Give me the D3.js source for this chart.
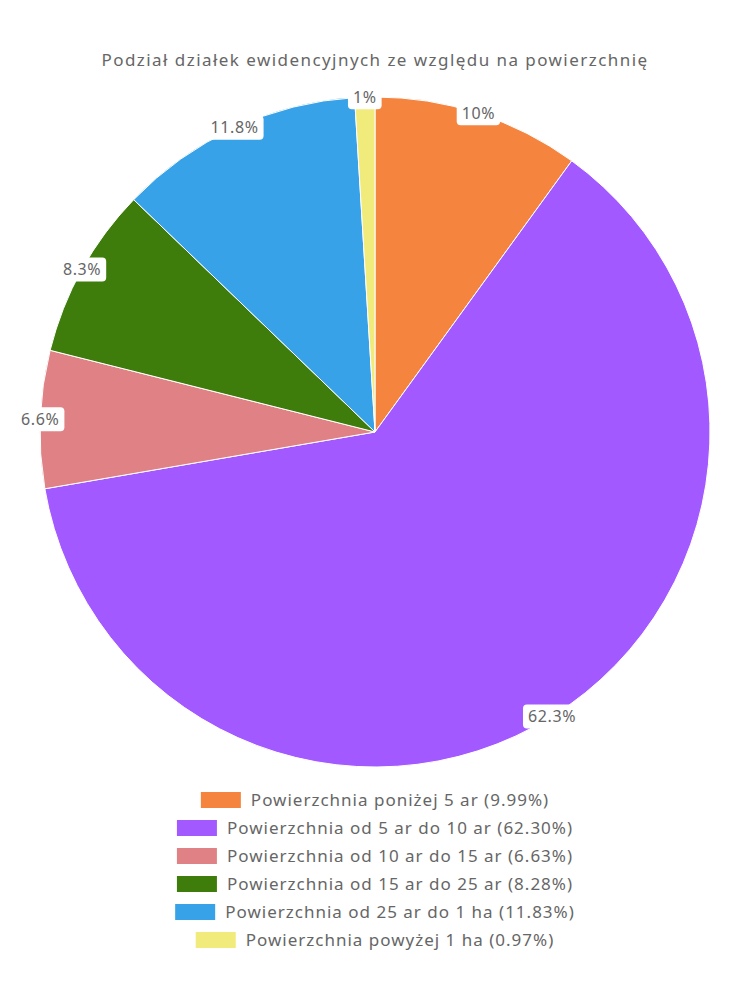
<!DOCTYPE html>
<html><head><meta charset="utf-8">
<script src="https://cdn.jsdelivr.net/npm/d3@7"></script>
<style>body{margin:0;background:#fff;} svg{display:block;}</style>
</head><body>
<svg id="chart" width="750" height="1000"></svg>
<script>
const title = "Podział działek ewidencyjnych ze względu na powierzchnię";
const categories = ["Powierzchnia poniżej 5 ar","Powierzchnia od 5 ar do 10 ar","Powierzchnia od 10 ar do 15 ar","Powierzchnia od 15 ar do 25 ar","Powierzchnia od 25 ar do 1 ha","Powierzchnia powyżej 1 ha"];
const values = [9.99, 62.30, 6.63, 8.28, 11.83, 0.97];
const sliceLabels = ["10%","62.3%","6.6%","8.3%","11.8%","1%"];
const colors = ["#f5843f","#a259ff","#e08285","#3e7c0b","#38a2e9","#f0eb7b"];

const FONT = "'Noto Sans', sans-serif";
const svg = d3.select("#chart");
const cx = 375, cy = 432, R = 335;

const tt = svg.append("text").attr("x", cx).attr("y", 66).attr("text-anchor","middle")
  .attr("font-family", FONT).attr("font-size", 17).attr("fill","#666").text(title);
// stretch to reference width
{
  const w = tt.node().getComputedTextLength();
  const ls = (547 - w) / title.length;
  tt.attr("letter-spacing", ls);
}

const pie = d3.pie().sort(null).value(d=>d)(values);
const arc = d3.arc().innerRadius(0).outerRadius(R);
const g = svg.append("g").attr("transform",`translate(${cx},${cy})`);
g.selectAll("path").data(pie).join("path")
  .attr("d", arc).attr("fill",(d,i)=>colors[i]).attr("stroke","#fff").attr("stroke-width",1);

const labelArc = d3.arc().innerRadius(R).outerRadius(R);
const lg = g.selectAll("g.lab").data(pie).join("g").attr("class","lab")
  .attr("transform", d=>{const c = labelArc.centroid(d); return `translate(${c[0]},${c[1]})`;});
lg.each(function(d,i){
  const s = d3.select(this);
  const t = s.append("text").attr("text-anchor","middle").attr("dy","0.35em")
    .attr("font-family", FONT).attr("font-size", 16).attr("letter-spacing", 0.6)
    .attr("fill","#666").text(sliceLabels[i]);
  const bb = t.node().getBBox();
  s.insert("rect","text").attr("x", bb.x-5).attr("y", -12).attr("width", bb.width+10).attr("height", 24)
    .attr("rx",4).attr("fill","#fff");
});

const legend = svg.append("g");
categories.forEach((c,i)=>{
  const y = 800 + i*28;
  const row = legend.append("g");
  const txt = row.append("text").attr("y", y).attr("dy","0.35em")
    .attr("font-family", FONT).attr("font-size", 17).attr("letter-spacing", 1).attr("fill","#666")
    .text(`${c} (${values[i].toFixed(2)}%)`);
  const w = txt.node().getComputedTextLength();
  const total = 40 + 10 + w;
  const x0 = cx - total/2;
  row.insert("rect","text").attr("x", x0).attr("y", y-8).attr("width",40).attr("height",16).attr("fill",colors[i]);
  txt.attr("x", x0 + 50);
});
</script>
</body></html>
